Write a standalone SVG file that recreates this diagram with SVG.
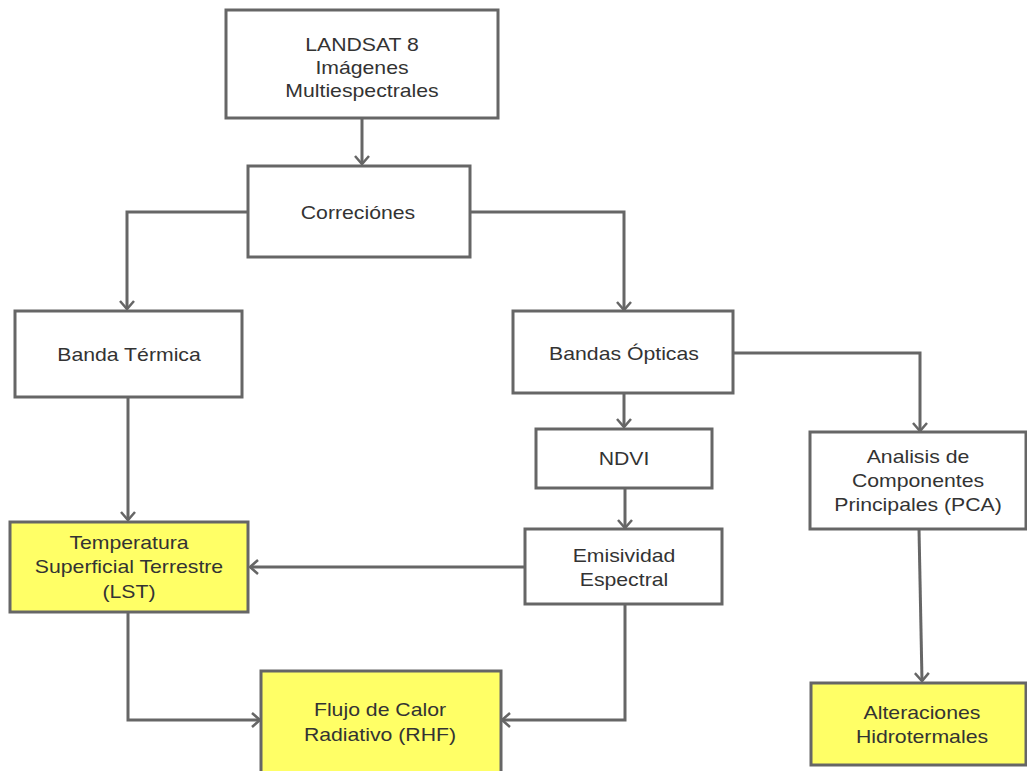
<svg xmlns="http://www.w3.org/2000/svg" width="1027" height="771" viewBox="0 0 1027 771">
<defs>
<marker id="arr" markerWidth="16" markerHeight="16" refX="9" refY="8" orient="auto" markerUnits="userSpaceOnUse">
<path d="M1,1 L9,8 L1,15" fill="none" stroke="#666" stroke-width="2.5"/>
</marker>
<style>
.box{fill:#fff;stroke:#666;stroke-width:3}
.hl{fill:#ffff66;stroke:#666;stroke-width:3}
.t{font-family:"Liberation Sans",Arial,sans-serif;font-size:18px;fill:#333;text-anchor:middle}
.c{fill:none;stroke:#666;stroke-width:3;marker-end:url(#arr)}
</style>
</defs>
<rect width="1027" height="771" fill="#fff"/>
<g id="connectors">
<path class="c" d="M362,118 V164"/>
<path class="c" d="M248,212 H127 V309"/>
<path class="c" d="M470,212 H624 V310"/>
<path class="c" d="M128,397 V520"/>
<path class="c" d="M624,393 V427"/>
<path class="c" d="M733,353 H920 V431"/>
<path class="c" d="M625,488 V528"/>
<path class="c" d="M525,567 H250"/>
<path class="c" d="M919,529 L922,681"/>
<path class="c" d="M128,612 V720 H260"/>
<path class="c" d="M625,604 V720 H502"/>
</g>
<g id="landsat"><rect class="box" x="226" y="10" width="272" height="108"/>
<g transform="matrix(1.18 0 0 1 -65.16 0)"><text class="t" x="362" y="51">LANDSAT 8</text><text class="t" x="362" y="74">Imágenes</text><text class="t" x="362" y="97">Multiespectrales</text></g></g>
<g id="correcciones"><rect class="box" x="248" y="166" width="222" height="91"/>
<text class="t" x="358" y="219" transform="matrix(1.18 0 0 1 -64.44 0)">Correciónes</text></g>
<g id="banda_termica"><rect class="box" x="15" y="311" width="227" height="86"/>
<text class="t" x="129" y="361" transform="matrix(1.18 0 0 1 -23.22 0)">Banda Térmica</text></g>
<g id="bandas_opticas"><rect class="box" x="513" y="311" width="220" height="82"/>
<text class="t" x="624" y="360" transform="matrix(1.18 0 0 1 -112.32 0)">Bandas Ópticas</text></g>
<g id="ndvi"><rect class="box" x="536" y="429" width="176" height="59"/>
<text class="t" x="624" y="465" transform="matrix(1.18 0 0 1 -112.32 0)">NDVI</text></g>
<g id="pca"><rect class="box" x="810" y="432" width="216" height="97"/>
<g transform="matrix(1.18 0 0 1 -165.24 0)"><text class="t" x="918" y="463">Analisis de</text><text class="t" x="918" y="487">Componentes</text><text class="t" x="918" y="511">Principales (PCA)</text></g></g>
<g id="emisividad"><rect class="box" x="525" y="529" width="197" height="75"/>
<g transform="matrix(1.18 0 0 1 -112.32 0)"><text class="t" x="624" y="562">Emisividad</text><text class="t" x="624" y="586">Espectral</text></g></g>
<g id="lst"><rect class="hl" x="10" y="522" width="238" height="90"/>
<g transform="matrix(1.18 0 0 1 -23.22 0)"><text class="t" x="129" y="549">Temperatura</text><text class="t" x="129" y="573">Superficial Terrestre</text><text class="t" x="129" y="598">(LST)</text></g></g>
<g id="rhf"><rect class="hl" x="261" y="671" width="240" height="110"/>
<g transform="matrix(1.18 0 0 1 -68.4 0)"><text class="t" x="380" y="716">Flujo de Calor</text><text class="t" x="380" y="741">Radiativo (RHF)</text></g></g>
<g id="alteraciones"><rect class="hl" x="811" y="683" width="215" height="82"/>
<g transform="matrix(1.18 0 0 1 -165.96 0)"><text class="t" x="922" y="719">Alteraciones</text><text class="t" x="922" y="743">Hidrotermales</text></g></g>
</svg>
